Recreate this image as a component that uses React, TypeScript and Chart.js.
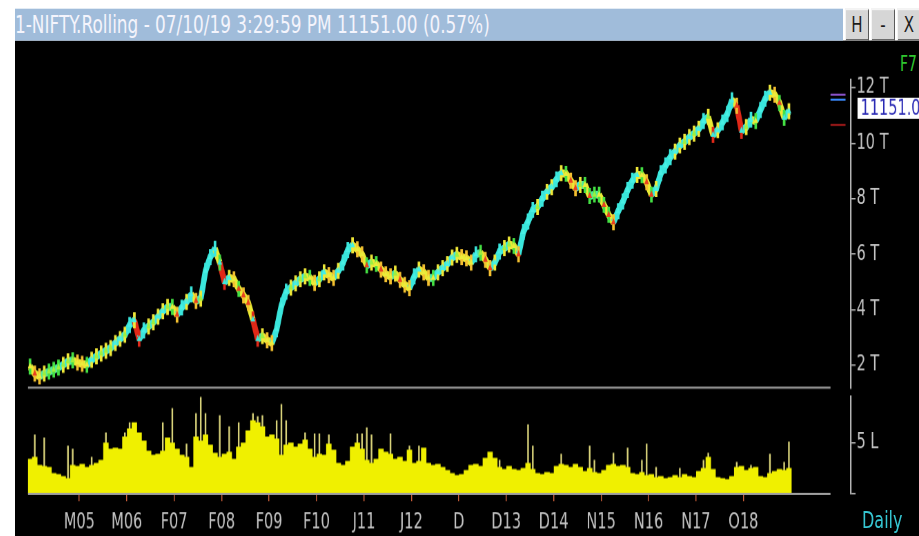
import React, { useEffect, useRef } from 'react';
import { Chart, registerables } from 'chart.js';

Chart.register(...registerables);

// ---------------- data ----------------
const titleText = '1-NIFTY.Rolling - 07/10/19 3:29:59 PM 11151.00 (0.57%)';

// x axis: tick periods (roughly one year each)
const xTickLabels = ['M05', 'M06', 'F07', 'F08', 'F09', 'F10', 'J11', 'J12', 'D', 'D13', 'D14', 'N15', 'N16', 'N17', 'O18'];
const xTickPositions = [0, 1, 2, 3, 4, 5, 6, 7, 8, 9, 10, 11, 12, 13, 14];
const xMin = -1.082;
const xMax = 16.259;

// samples are taken every 0.1 period, starting at -1.04
const sampleStart = -1.04;
const sampleStep = 0.1;

// price in thousands (T)
const priceValues = [
  1.95, 1.70, 1.60, 1.70, 1.77, 1.84, 1.92, 2.02, 2.14, 2.18,
  2.10, 2.05, 2.02, 2.20, 2.32, 2.42, 2.52, 2.62, 2.80, 2.95,
  3.10, 3.45, 3.62, 2.95, 3.25, 3.40, 3.55, 3.75, 3.95, 4.10,
  4.10, 3.82, 4.08, 4.28, 4.55, 4.32, 4.40, 5.40, 5.90, 6.20,
  5.70, 5.00, 5.15, 5.10, 4.75, 4.52, 4.25, 3.65, 2.95, 3.05,
  2.90, 2.80, 3.30, 4.15, 4.65, 4.80, 4.95, 5.10, 5.20, 5.15,
  4.97, 5.10, 5.35, 5.25, 5.15, 5.40, 5.70, 6.15, 6.32, 6.18,
  6.00, 5.60, 5.70, 5.65, 5.45, 5.28, 5.20, 5.30, 5.08, 4.90,
  4.78, 5.20, 5.45, 5.35, 5.15, 5.15, 5.35, 5.50, 5.65, 5.88,
  5.98, 5.90, 5.85, 5.70, 6.00, 6.05, 5.80, 5.50, 5.70, 6.10,
  6.22, 6.35, 6.30, 6.00, 6.80, 7.18, 7.60, 7.70, 8.00, 8.25,
  8.42, 8.70, 8.92, 8.90, 8.65, 8.38, 8.50, 8.50, 8.10, 8.15,
  8.15, 7.78, 7.42, 7.15, 7.55, 7.90, 8.32, 8.65, 8.86, 8.85,
  8.60, 8.15, 8.35, 8.92, 9.20, 9.50, 9.70, 9.92, 10.05, 10.22,
  10.35, 10.52, 10.80, 10.95, 10.30, 10.47, 10.75, 11.05, 11.55, 11.35,
  10.45, 10.58, 10.85, 10.80, 11.20, 11.60, 11.82, 11.75, 11.45, 10.92,
  11.15,
];
const priceTicks = [2, 4, 6, 8, 10, 12];
const priceMin = 1.17;
const priceMax = 12.289;
const lastPrice = 11.151;
const refLevels = [11.75, 11.57, 10.66];

// volume in lakh (L)
const volumeValues = [
  3.4, 3.6, 2.8, 2.7, 2.6, 2.0, 1.9, 1.7, 1.5, 2.8,
  2.7, 2.9, 2.6, 2.8, 3.0, 3.3, 5.0, 4.4, 4.5, 4.4,
  5.6, 6.4, 7.0, 6.0, 5.2, 4.2, 3.8, 3.9, 4.2, 5.5,
  5.0, 4.4, 3.8, 3.6, 2.6, 5.6, 5.2, 5.8, 4.8, 4.0,
  3.6, 3.9, 4.1, 3.4, 4.6, 5.0, 6.2, 7.2, 7.0, 6.6,
  5.6, 5.8, 5.4, 3.8, 4.8, 5.0, 4.6, 4.9, 5.3, 4.4,
  3.6, 3.9, 3.8, 4.9, 4.3, 3.0, 2.8, 3.2, 4.6, 5.0,
  4.4, 3.3, 3.0, 3.4, 4.4, 4.1, 3.9, 3.4, 3.6, 3.2,
  4.3, 3.0, 3.2, 4.5, 3.0, 2.8, 2.9, 2.6, 2.3, 2.0,
  1.8, 1.9, 2.3, 2.8, 2.9, 2.7, 3.5, 4.1, 3.5, 2.6,
  2.4, 2.7, 2.4, 2.3, 2.5, 3.0, 2.4, 2.0, 1.9, 2.1,
  2.0, 2.7, 2.9, 2.8, 2.6, 2.9, 2.6, 2.2, 2.5, 2.1,
  2.0, 2.3, 2.8, 2.9, 2.7, 2.8, 2.6, 2.0, 1.9, 2.1,
  1.8, 1.9, 1.6, 1.7, 1.5, 1.6, 1.8, 1.6, 1.9, 1.7,
  1.6, 2.2, 2.5, 3.6, 2.4, 1.6, 1.5, 1.4, 1.7, 2.6,
  2.7, 2.3, 2.5, 2.6, 1.7, 1.6, 2.0, 2.2, 2.4, 2.3,
  2.5,
];
const spikeIndex = [1, 3, 8, 9, 13, 16, 20, 21, 28, 30, 33, 35, 36, 37, 40, 42, 44, 47, 48, 49, 52, 53, 54, 58, 60, 61, 63, 69, 70, 71, 72, 76, 80, 82, 99, 105, 106, 112, 118, 119, 123, 126, 129, 130, 132, 137, 142, 143, 149, 152, 156, 159, 160];
const spikeValues = [5.8, 5.5, 4.7, 4.4, 3.6, 6.0, 6.0, 7.0, 7.0, 8.4, 4.9, 7.9, 9.5, 7.9, 7.7, 6.6, 7.0, 7.9, 7.6, 7.7, 7.2, 8.8, 7.2, 6.0, 5.9, 5.9, 5.8, 5.9, 5.9, 6.5, 5.8, 5.9, 4.7, 4.7, 3.3, 6.8, 4.7, 3.9, 4.7, 3.3, 4.0, 4.5, 3.3, 4.9, 2.6, 2.5, 3.3, 4.0, 3.1, 2.8, 3.9, 3.1, 5.1];
const volumeTicks = [0, 5];
const volumeMax = 9.6;

// ---------------- style ----------------
const S = 1.45; // vertical stretch of the terminal screenshot
const Y = (v: number) => v / S;
const FONT = '"DejaVu Sans", Verdana, sans-serif';
const AXIS = '#b4b4b4';
const LABEL = '#c4c4c4';
const CYAN = '#3ae6dc';
const GREEN = '#44e044';
const YELLOW = '#eaea34';
const RED = '#e02818';
const VOL_YELLOW = '#f0f000';
const SPIKE = '#d8d27a';
const TICK_ORANGE = '#d0603a';
const refColors = ['#8c54cc', '#3c8cff', '#a01a1a'];

const diffAt = (i: number) => (i === 0 ? 0 : priceValues[i] - priceValues[i - 1]);

function segColor(a: number, b: number) {
  const d = b - a;
  if (d >= 0.1) return CYAN;
  if (d >= 0) return '#52e8a0';
  if (d > -0.65) return YELLOW;
  return RED;
}

function barColor(i: number) {
  const d = diffAt(i);
  if (d > 0.25) return CYAN;
  if (d > 0.08) return '#f0e838';
  if (d > -0.05) return GREEN;
  if (d > -0.3) return '#f4c030';
  if (d > -0.6) return GREEN;
  return RED;
}

function triColor(i: number) {
  const d = diffAt(i);
  if (d > 0.15) return '#48f0e4';
  if (d > 0) return '#9cf040';
  if (d > -0.2) return '#ecec3c';
  if (d > -0.5) return '#e84020';
  return '#40e8d8';
}

function PriceChart() {
  const ref = useRef<HTMLCanvasElement>(null);
  useEffect(() => {
    const canvas = ref.current;
    if (!canvas) return;
    const data = priceValues.map((v, i) => ({ x: sampleStart + i * sampleStep, y: v }));
    const overlay = {
      id: 'priceOverlay',
      afterDraw(chart: any) {
        const { ctx, chartArea } = chart;
        const ys = chart.scales.y;
        ctx.save();
        ctx.strokeStyle = '#a0a0a0';
        ctx.lineWidth = 1.4;
        ctx.beginPath();
        ctx.moveTo(13, chartArea.bottom - 0.5);
        ctx.lineTo(815, chartArea.bottom - 0.5);
        ctx.stroke();
        refLevels.forEach((lv, k) => {
          const py = ys.getPixelForValue(lv);
          ctx.strokeStyle = refColors[k];
          ctx.lineWidth = 1.4;
          ctx.beginPath();
          ctx.moveTo(815, py);
          ctx.lineTo(830, py);
          ctx.stroke();
        });
        const py = ys.getPixelForValue(lastPrice) - Y(3);
        const h = Y(21);
        ctx.fillStyle = '#ffffff';
        ctx.fillRect(842, py - h / 2, 70, h);
        ctx.fillStyle = '#2a2ab4';
        ctx.font = `14.5px ${FONT}`;
        ctx.textBaseline = 'middle';
        ctx.textAlign = 'left';
        ctx.fillText((lastPrice * 1000).toFixed(2), 845, py + 0.5);
        ctx.restore();
      },
    };
    const chart = new Chart(canvas, {
      type: 'line',
      data: {
        datasets: [
          {
            data,
            borderWidth: 5.5,
            borderColor: CYAN,
            segment: { borderColor: (c: any) => segColor(c.p0.parsed.y, c.p1.parsed.y) },
            pointRadius: 0,
            tension: 0,
            order: 3,
          } as any,
          {
            data,
            showLine: false,
            pointStyle: 'line',
            rotation: 90,
            pointRadius: 5.5,
            pointBorderWidth: 2.6,
            pointBorderColor: (c: any) => barColor(c.dataIndex),
            order: 2,
          } as any,
          {
            data,
            showLine: false,
            pointStyle: 'triangle',
            pointRadius: 2.8,
            pointBorderWidth: 0,
            pointBackgroundColor: (c: any) => triColor(c.dataIndex),
            order: 1,
          } as any,
        ],
      },
      options: {
        animation: false,
        responsive: true,
        maintainAspectRatio: false,
        devicePixelRatio: S,
        events: [],
        layout: { autoPadding: false, padding: { left: 13, right: 0, top: Y(80 - 41), bottom: Y(395 - 388) } },
        plugins: { legend: { display: false }, tooltip: { enabled: false } },
        scales: {
          x: { type: 'linear', min: xMin, max: xMax, display: false },
          y: {
            position: 'right',
            min: priceMin,
            max: priceMax,
            afterBuildTicks: (s: any) => {
              s.ticks = priceTicks.map((v) => ({ value: v }));
            },
            afterFit: (s: any) => {
              s.width = 69;
              s.paddingTop = 0;
              s.paddingBottom = 0;
            },
            grid: { display: true, drawOnChartArea: false, drawTicks: true, tickLength: 5, color: AXIS, lineWidth: 1 },
            border: { display: true, color: AXIS, width: 1.5 },
            ticks: {
              padding: 1,
              color: LABEL,
              font: { family: FONT, size: 14.5 },
              callback: (v: any) => `${v} T`,
            },
          },
        },
      } as any,
      plugins: [overlay],
    });
    return () => chart.destroy();
  }, []);
  return (
    <div style={{ position: 'absolute', left: 15, top: Y(41), width: 904, height: Y(395 - 41) }}>
      <canvas ref={ref} />
    </div>
  );
}

function VolumeChart() {
  const ref = useRef<HTMLCanvasElement>(null);
  useEffect(() => {
    const canvas = ref.current;
    if (!canvas) return;
    const overlay = {
      id: 'volOverlay',
      afterDraw(chart: any) {
        const { ctx, chartArea } = chart;
        ctx.save();
        ctx.strokeStyle = '#a0a0a0';
        ctx.lineWidth = 1.4;
        ctx.beginPath();
        ctx.moveTo(13, chartArea.bottom);
        ctx.lineTo(815, chartArea.bottom);
        ctx.stroke();
        ctx.restore();
      },
    };
    const chart = new Chart(canvas, {
      type: 'bar',
      data: {
        datasets: [
          {
            data: volumeValues.map((v, i) => ({ x: sampleStart + i * sampleStep, y: v })),
            backgroundColor: VOL_YELLOW,
            barPercentage: 1,
            categoryPercentage: 1,
            grouped: false,
            order: 1,
            borderWidth: 0,
          } as any,
          {
            data: spikeIndex.map((idx, k) => ({ x: sampleStart + idx * sampleStep, y: spikeValues[k] })),
            backgroundColor: SPIKE,
            barThickness: 1,
            grouped: false,
            order: 2,
            borderWidth: 0,
          } as any,
        ],
      },
      options: {
        animation: false,
        responsive: true,
        maintainAspectRatio: false,
        devicePixelRatio: S,
        events: [],
        layout: { autoPadding: false, padding: { left: 13, right: 0, top: Y(397 - 395), bottom: 0 } },
        plugins: { legend: { display: false }, tooltip: { enabled: false } },
        scales: {
          x: {
            type: 'linear',
            min: xMin,
            max: xMax,
            offset: false,
            afterBuildTicks: (s: any) => {
              s.ticks = xTickPositions.map((v) => ({ value: v }));
            },
            afterFit: (s: any) => {
              s.height = Y(536 - 493);
              s.paddingLeft = 0;
              s.paddingRight = 0;
            },
            grid: { offset: false, drawOnChartArea: false, drawTicks: true, tickLength: 5, color: TICK_ORANGE, tickColor: TICK_ORANGE, lineWidth: 1 },
            border: { display: false },
            ticks: {
              color: LABEL,
              font: { family: FONT, size: 14.5 },
              padding: 6,
              autoSkip: false,
              maxRotation: 0,
              callback: (v: any) => {
                const k = xTickPositions.indexOf(v);
                return k >= 0 ? xTickLabels[k] : '';
              },
            },
          },
          y: {
            position: 'right',
            min: 0,
            max: volumeMax,
            afterBuildTicks: (s: any) => {
              s.ticks = volumeTicks.map((v) => ({ value: v }));
            },
            afterFit: (s: any) => {
              s.width = 69;
              s.paddingTop = 0;
              s.paddingBottom = 0;
            },
            grid: { display: true, drawOnChartArea: false, drawTicks: true, tickLength: 5, color: AXIS, lineWidth: 1 },
            border: { display: true, color: AXIS, width: 1.5 },
            ticks: {
              padding: 1,
              color: LABEL,
              font: { family: FONT, size: 14.5 },
              callback: (v: any) => (v === 0 ? '' : `${v} L`),
            },
          },
        },
      } as any,
      plugins: [overlay],
    });
    return () => chart.destroy();
  }, []);
  return (
    <div style={{ position: 'absolute', left: 15, top: Y(395), width: 904, height: Y(536 - 395) }}>
      <canvas ref={ref} />
    </div>
  );
}

const btnStyle = (left: number): React.CSSProperties => ({
  position: 'absolute',
  left,
  top: Y(8),
  width: 24,
  height: Y(33),
  boxSizing: 'border-box',
  background: '#d6d6d6',
  borderTop: '1px solid #f4f4f4',
  borderLeft: '1px solid #f4f4f4',
  borderRight: '1px solid #5a5a5a',
  borderBottom: '1px solid #5a5a5a',
  color: '#1c1c1c',
  fontFamily: FONT,
  fontSize: 15,
  lineHeight: `${Y(31)}px`,
  textAlign: 'center',
});

export default function App() {
  return (
    <div
      style={{
        position: 'absolute',
        left: 0,
        top: 0,
        width: 919,
        height: 536 / S,
        overflow: 'hidden',
        background: '#ffffff',
        transform: `scaleY(${S})`,
        transformOrigin: '0 0',
      }}
    >
      <div style={{ position: 'absolute', left: 15, top: Y(41), width: 904, height: Y(536 - 41), background: '#000000' }} />
      <div
        style={{
          position: 'absolute',
          left: 15,
          top: Y(8),
          width: 828,
          height: Y(33),
          background: '#a0bcda',
          color: '#f4f4fc',
          fontFamily: FONT,
          fontSize: 16.9,
          lineHeight: `${Y(33)}px`,
          whiteSpace: 'nowrap',
          overflow: 'hidden',
        }}
      >
        {titleText}
      </div>
      <div style={btnStyle(845)}>H</div>
      <div style={btnStyle(871)}>-</div>
      <div style={btnStyle(897)}>X</div>
      <div style={{ position: 'absolute', left: 900, top: Y(52), color: '#2fc52f', fontFamily: FONT, fontSize: 14, lineHeight: '16px', whiteSpace: 'nowrap' }}>F7</div>
      <PriceChart />
      <VolumeChart />
      <div style={{ position: 'absolute', left: 862, top: Y(508), color: '#36c6d2', fontFamily: FONT, fontSize: 16, lineHeight: '18px', whiteSpace: 'nowrap' }}>Daily</div>
    </div>
  );
}
